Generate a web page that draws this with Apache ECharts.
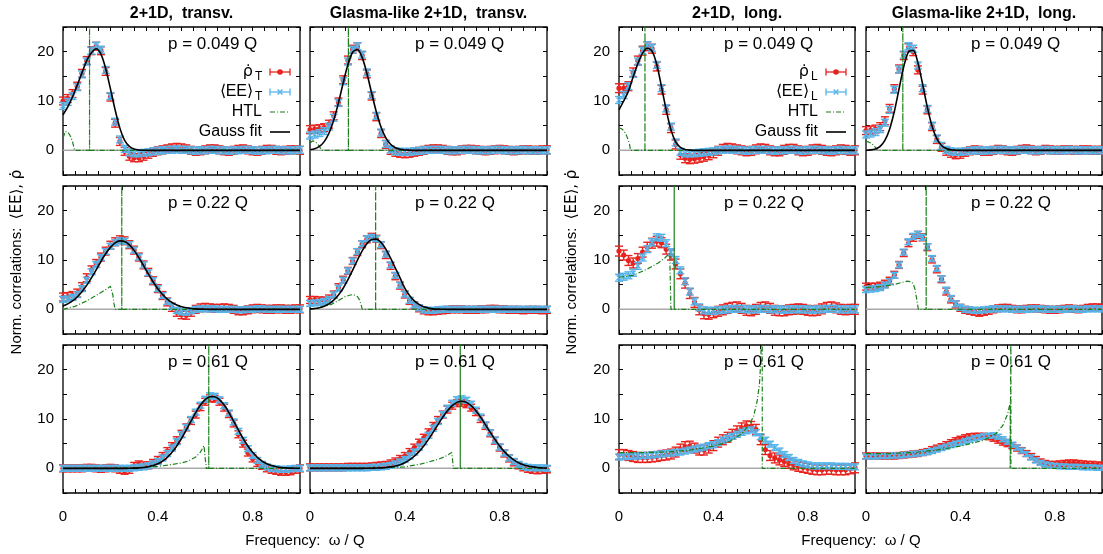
<!DOCTYPE html>
<html><head><meta charset="utf-8">
<script src="https://cdn.jsdelivr.net/npm/echarts@6/dist/echarts.min.js"></script>
<style>html,body{margin:0;padding:0;background:#fff}#c{width:1103px;height:554px}</style>
</head><body><div id="c"></div>
<script>
// ---------------- data ----------------
const omega = [0,0.02,0.04,0.06,0.08,0.1,0.12,0.14,0.16,0.18,
0.2,0.22,0.24,0.26,0.28,0.3,0.32,0.34,0.36,0.38,
0.4,0.42,0.44,0.46,0.48,0.5,0.52,0.54,0.56,0.58,
0.6,0.62,0.64,0.66,0.68,0.7,0.72,0.74,0.76,0.78,
0.8,0.82,0.84,0.86,0.88,0.9,0.92,0.94,0.96,0.98,
1.0];
const columnTitles = ['2+1D,  transv.', 'Glasma-like 2+1D,  transv.', '2+1D,  long.', 'Glasma-like 2+1D,  long.'];
const momentumLabels = ['p = 0.049 Q', 'p = 0.22 Q', 'p = 0.61 Q'];
const yTickLabels = [0, 10, 20];
const xTickLabels = [0, 0.4, 0.8];

// Row 1: p = 0.049 Q
const rhoA = [10.0,10.5,11.5,13.0,15.6,18.2,20.2,21.1,20.2,16.0,
10.8,5.5,1.8,-0.2,-1.2,-1.5,-1.5,-1.2,-0.8,-0.4,
-0.1,0.1,0.3,0.5,0.6,0.5,0.3,0.0,-0.2,-0.1,
0.1,0.3,0.3,0.1,-0.1,-0.2,0.0,0.2,0.3,0.1,
-0.1,-0.2,0.0,0.2,0.2,0.0,-0.1,0.0,0.1,0.1,
0.0];
const eeA = [9.0,9.8,11.0,12.8,15.4,18.0,20.2,21.2,20.4,16.3,
11.0,5.8,2.2,0.3,-0.4,-0.6,-0.6,-0.5,-0.4,-0.2,
-0.1,0.0,0.1,0.1,0.2,0.1,0.1,0.0,-0.1,0.0,
0.0,0.1,0.1,0.0,0.0,-0.1,0.0,0.0,0.1,0.1,
0.0,-0.1,0.0,0.0,0.1,0.1,0.0,0.0,0.0,0.0,
0.1];
const fitA = [7.2,8.8,10.8,13.2,15.7,18.2,19.8,20.6,19.5,16.6,
12.5,8.2,4.5,2.0,0.8,0.25,0.08,0.02,0,0,
0,0,0,0,0,0,0,0,0,0,
0,0,0,0,0,0,0,0,0,0,
0,0,0,0,0,0,0,0,0,0,
0];
const htlA = [[0,2.5],[0.01,3.8],[0.02,3.7],[0.03,3.0],[0.04,1.8],[0.049,0],[0.112,0],[0.112,30],[0.112,0],[1,0]];

const rhoB = [4.2,4.3,4.4,4.6,5.3,7.0,9.8,14.3,18.3,20.5,
21.0,19.2,15.5,11.0,6.8,3.4,1.2,0.0,-0.4,-0.6,
-0.7,-0.6,-0.4,-0.2,0.0,0.2,0.3,0.3,0.2,0.0,
-0.1,-0.1,0.1,0.2,0.2,0.1,0.0,-0.1,0.0,0.1,
0.2,0.1,0.0,-0.1,0.0,0.1,0.1,0.0,0.0,0.1,
0.1];
const eeB = [3.0,3.2,3.5,3.9,4.8,6.6,9.6,14.0,18.0,20.4,
21.1,19.4,15.8,11.2,7.0,3.6,1.3,0.2,-0.2,-0.3,
-0.3,-0.3,-0.2,-0.1,0.0,0.1,0.1,0.1,0.1,0.0,
0.0,0.0,0.1,0.1,0.1,0.0,0.0,0.0,0.0,0.1,
0.1,0.0,0.0,0.0,0.0,0.1,0.0,0.0,0.0,0.0,
0.0];
const fitB = [0.12,0.33,0.81,1.77,3.47,6.1,9.63,13.65,17.39,19.89,
20.43,18.85,15.62,11.62,7.76,4.66,2.51,1.22,0.53,0.21,
0.08,0.03,0,0,0,0,0,0,0,0,
0,0,0,0,0,0,0,0,0,0,
0,0,0,0,0,0,0,0,0,0,
0];
const htlB = [[0,1.5],[0.01,1.9],[0.02,1.8],[0.03,1.4],[0.04,0.8],[0.049,0],[0.162,0],[0.162,30],[0.162,0],[1,0]];

const rhoC = [12.6,12.6,13.0,15.8,18.2,20.2,21.1,20.6,17.0,12.3,
8.2,4.5,1.2,-0.9,-1.6,-1.8,-1.7,-1.5,-1.3,-1.0,
-0.6,-0.1,0.3,0.5,0.4,0.2,0.0,-0.2,-0.1,0.2,
0.4,0.3,0.0,-0.2,-0.2,0.1,0.3,0.3,0.0,-0.2,
-0.1,0.2,0.3,0.1,-0.1,-0.2,0.0,0.2,0.1,-0.1,
0.0];
const eeC = [10.2,11.2,13.0,15.5,18.0,20.2,21.3,20.8,17.3,12.6,
8.5,4.8,1.6,-0.3,-0.6,-0.6,-0.6,-0.5,-0.4,-0.3,
-0.2,0.0,0.1,0.2,0.1,0.1,0.0,-0.1,0.0,0.1,
0.1,0.1,0.0,-0.1,0.0,0.0,0.1,0.1,0.0,-0.1,
0.0,0.1,0.1,0.0,0.0,-0.1,0.0,0.1,0.0,0.0,
0.0];
const fitC = [8.2,10.0,12.0,14.9,17.6,19.7,20.7,20.1,17.4,12.9,
8.2,4.2,1.7,0.6,0.15,0.04,0,0,0,0,
0,0,0,0,0,0,0,0,0,0,
0,0,0,0,0,0,0,0,0,0,
0,0,0,0,0,0,0,0,0,0,
0];
const htlC = [[0,4.5],[0.01,4.4],[0.02,4.0],[0.03,3.2],[0.04,2.0],[0.045,1.1],[0.049,0],[0.11,0],[0.11,30],[0.11,0],[1,0]];

const rhoD = [4.0,4.1,4.3,4.8,6.0,8.5,12.5,16.5,19.2,20.8,
20.0,16.3,12.2,8.2,4.8,2.2,0.6,-0.2,-0.6,-0.9,
-0.8,-0.4,-0.1,0.1,0.0,-0.2,-0.2,0.0,0.2,0.1,
-0.1,-0.2,0.0,0.2,0.3,0.1,-0.1,0.0,0.2,0.1,
0.0,0.0,0.1,0.1,0.0,0.0,0.1,0.1,0.0,0.0,
0.0];
const eeD = [3.2,3.4,3.7,4.3,5.6,8.2,12.3,16.4,19.4,21.1,
20.6,17.2,12.6,8.4,5.0,2.4,0.9,0.1,-0.2,-0.3,
-0.3,-0.2,-0.1,0.0,0.0,-0.1,0.0,0.0,0.1,0.1,
0.0,0.0,0.0,0.1,0.1,0.0,0.0,0.0,0.1,0.0,
0.0,0.0,0.0,0.1,0.0,0.0,0.0,0.0,0.0,0.0,
0.0];
const fitD = [0.02,0.09,0.29,0.82,2.02,4.29,7.86,12.43,16.96,19.96,
20.26,17.73,13.39,8.72,4.89,2.37,0.99,0.36,0.11,0.03,
0,0,0,0,0,0,0,0,0,0,
0,0,0,0,0,0,0,0,0,0,
0,0,0,0,0,0,0,0,0,0,
0];
const htlD = [[0,1.8],[0.01,1.7],[0.02,1.5],[0.03,1.1],[0.04,0.6],[0.049,0],[0.156,0],[0.156,30],[0.156,0],[1,0]];

// Row 2: p = 0.22 Q
const rhoE = [2.5,2.6,2.8,3.3,4.6,6.4,8.0,9.3,10.6,11.8,
13.0,13.7,14.1,13.9,13.1,12.0,10.6,9.0,7.5,5.8,
4.2,2.8,1.5,0.4,-0.6,-1.1,-1.2,-0.6,0.0,0.3,
0.4,0.3,0.2,0.2,0.3,0.2,0.0,-0.3,-0.3,-0.1,
0.1,0.2,0.1,0.0,0.0,0.1,0.1,0.0,0.0,0.1,
0.1];
const eeE = [2.0,2.1,2.4,3.0,4.2,5.9,7.6,9.1,10.5,11.7,
12.8,13.5,13.9,13.8,13.1,12.0,10.6,9.0,7.4,5.8,
4.2,2.8,1.6,0.6,-0.2,-0.5,-0.6,-0.3,0.0,0.1,
0.1,0.1,0.1,0.0,0.0,0.0,0.0,-0.1,-0.1,0.0,
0.0,0.1,0.1,0.0,0.0,0.0,0.0,0.0,0.0,0.0,
0.0];
const fitE = [0.69,1.11,1.7,2.51,3.56,4.86,6.36,8.01,9.69,11.26,
12.56,13.47,13.88,13.74,13.07,11.95,10.49,8.85,7.17,5.59,
4.18,3.01,2.08,1.38,0.88,0.54,0.32,0.18,0.1,0.05,
0.02,0,0,0,0,0,0,0,0,0,
0,0,0,0,0,0,0,0,0,0,
0];
const htlE = [[0,0],[0.05,0.6],[0.1,1.7],[0.14,2.8],[0.17,3.7],[0.19,4.3],[0.2,4.7],[0.205,4.5],[0.21,3.0],[0.215,1.2],[0.22,0],[0.248,0],[0.248,30],[0.248,0],[1,0]];

const rhoF = [1.9,1.9,1.8,1.8,2.2,3.0,4.5,6.0,7.8,9.8,
11.6,13.2,14.2,14.7,14.3,13.0,11.0,8.8,6.7,4.8,
3.0,1.7,0.8,0.2,-0.2,-0.4,-0.4,-0.3,-0.2,-0.1,
0.0,0.0,0.0,-0.1,-0.1,-0.1,0.0,0.0,0.1,0.1,
0.0,0.0,-0.1,-0.1,-0.1,-0.2,-0.1,-0.1,-0.1,-0.2,
-0.1];
const eeF = [1.2,1.3,1.4,1.6,2.0,2.9,4.3,5.9,7.8,9.8,
11.7,13.3,14.3,14.6,14.3,13.1,11.2,9.0,6.9,4.9,
3.1,1.8,0.9,0.3,-0.1,-0.2,-0.2,-0.1,0.0,0.0,
0.0,0.0,0.0,0.0,0.0,0.0,0.0,0.0,0.0,0.0,
0.0,0.0,0.0,0.0,0.0,0.0,0.0,0.0,0.0,0.0,
0.0];
const fitF = [0.09,0.18,0.34,0.64,1.11,1.85,2.89,4.28,6.0,7.96,
9.99,11.86,13.32,14.16,14.24,13.54,12.19,10.38,8.37,6.38,
4.3,2.8,1.7,1.0,0.5,0.25,0.1,0.04,0.01,0,
0,0,0,0,0,0,0,0,0,0,
0,0,0,0,0,0,0,0,0,0,
0];
const htlF = [[0,0],[0.05,0.5],[0.09,1.0],[0.12,1.8],[0.15,2.6],[0.17,2.9],[0.183,3.0],[0.2,2.6],[0.21,1.8],[0.221,0],[0.277,0],[0.277,30],[0.277,0],[1,0]];

const rhoG = [11.8,11.0,9.9,9.4,10.3,11.6,12.6,13.4,13.8,13.5,
12.2,11.0,9.2,7.2,5.3,3.2,1.4,-0.1,-0.9,-1.0,
-0.7,-0.4,-0.1,0.2,0.4,0.5,0.2,-0.2,-0.3,0.0,
0.4,0.5,0.2,-0.2,-0.3,-0.3,-0.1,0.0,0.1,0.0,
-0.2,-0.3,-0.2,0.1,0.4,0.5,0.3,0.0,-0.1,0.0,
0.0];
const eeG = [6.4,6.6,6.9,7.4,8.8,10.5,12.2,13.6,14.6,14.5,
13.4,11.6,10.0,7.9,5.7,3.6,1.6,0.4,-0.2,-0.3,
-0.3,-0.2,-0.1,0.0,0.1,0.1,0.1,0.0,0.0,0.0,
0.1,0.1,0.0,0.0,0.0,-0.1,0.0,0.0,0.0,0.0,
0.0,-0.1,0.0,0.0,0.1,0.1,0.1,0.0,0.0,0.0,
0.0];
const htlG = [[0,6.5],[0.06,6.9],[0.117,8.1],[0.166,9.4],[0.194,10.4],[0.215,11.4],[0.22,11.6],[0.22,0],[0.234,0],[0.234,30],[0.234,0],[1,0]];

const rhoH = [4.6,4.6,4.6,4.8,5.2,5.8,7.0,9.0,11.4,13.4,
14.5,15.1,14.6,12.6,10.1,8.1,6.1,3.6,2.0,1.0,
0.3,-0.1,-0.3,-0.5,-0.7,-0.5,-0.3,0.0,0.2,0.3,
0.3,0.1,0.0,0.0,0.1,0.2,0.2,0.1,0.0,-0.1,
-0.1,0.0,0.1,0.2,0.1,0.0,0.1,0.3,0.4,0.4,
0.3];
const eeH = [4.0,4.1,4.2,4.4,4.9,5.6,6.9,9.0,11.6,13.7,
14.8,15.2,14.6,12.7,10.3,8.3,6.2,3.9,2.2,1.1,
0.4,0.0,-0.1,-0.2,-0.2,-0.1,0.0,0.1,0.1,0.1,
0.1,0.0,0.0,0.0,0.0,0.1,0.1,0.1,0.0,0.0,
0.0,0.0,0.0,0.1,0.1,0.0,0.0,0.1,0.1,0.1,
0.1];
const htlH = [[0,4.4],[0.06,4.6],[0.116,5.0],[0.172,5.7],[0.19,5.6],[0.2,5.2],[0.208,4.0],[0.215,2.0],[0.222,0],[0.255,0],[0.255,30],[0.255,0],[1,0]];

// Row 3: p = 0.61 Q
const rhoI = [0.0,0.0,0.0,0.0,0.0,0.1,0.1,0.0,-0.1,0.0,
0.1,0.0,-0.3,-0.5,-0.3,0.5,0.8,0.6,0.6,1.1,
1.7,2.5,3.5,4.5,5.7,7.0,8.3,9.6,10.9,12.4,
13.5,14.2,14.1,13.5,12.3,11.0,9.1,6.9,5.0,3.2,
2.0,1.1,0.5,0.0,-0.3,-0.5,-0.7,-0.7,-0.6,-0.3,
0.0];
const eeI = [0,0,0,0,0,0,0,0,0,0,
0,0,0,0,0,0.1,0.2,0.3,0.5,0.9,
1.4,2.1,3.0,4.1,5.4,6.8,8.3,9.9,11.4,12.8,
14.0,14.7,14.6,13.9,12.7,11.2,9.4,7.5,5.7,4.0,
2.6,1.6,0.8,0.3,0.0,-0.1,-0.2,-0.2,-0.1,0.0,
0.0];
const fitI = [0,0,0,0,0,0,0,0,0,0,
0,0,0,0,0.02,0.05,0.1,0.18,0.33,0.56,
0.93,1.47,2.23,3.24,4.52,6.05,7.78,9.57,11.31,12.82,
13.93,14.52,14.52,13.93,12.82,11.31,9.57,7.78,6.05,4.52,
3.24,2.23,1.47,0.93,0.56,0.33,0.18,0.1,0.05,0.02,
0.01];
const htlI = [[0,0],[0.3,0.1],[0.4,0.4],[0.45,0.7],[0.5,1.1],[0.53,1.5],[0.56,2.3],[0.58,3.3],[0.595,4.6],[0.6,2.0],[0.605,0],[0.615,0],[0.615,30],[0.615,0],[1,0]];

const rhoJ = [0.2,0.2,0.2,0.2,0.2,0.2,0.2,0.2,0.3,0.3,
0.3,0.3,0.3,0.4,0.5,0.6,0.7,1.0,1.4,1.9,
2.5,3.3,4.2,5.2,6.2,7.3,8.6,9.8,10.9,11.9,
12.7,13.2,13.3,13.0,12.3,11.4,10.0,8.6,7.1,5.6,
4.2,3.0,2.0,1.2,0.6,0.2,-0.1,-0.3,-0.4,-0.3,
-0.2];
const eeJ = [0.1,0.1,0.1,0.1,0.1,0.1,0.1,0.1,0.1,0.1,
0.1,0.1,0.1,0.2,0.2,0.3,0.4,0.6,0.9,1.3,
1.8,2.5,3.3,4.3,5.4,6.7,8.1,9.5,10.9,12.2,
13.2,13.9,14.1,13.8,13.0,11.8,10.4,8.8,7.2,5.7,
4.3,3.1,2.1,1.4,0.8,0.4,0.2,0.1,0.1,0.1,
0.0];
const fitJ = [0,0,0,0,0,0,0,0,0,0,
0,0,0.02,0.03,0.06,0.1,0.17,0.29,0.47,0.75,
1.15,1.71,2.45,3.39,4.54,5.87,7.34,8.86,10.34,11.65,
12.7,13.37,13.6,13.37,12.7,11.65,10.34,8.86,7.34,5.87,
4.54,3.39,2.45,1.71,1.15,0.75,0.47,0.29,0.17,0.1,
0.05];
const htlJ = [[0,0],[0.3,0.1],[0.4,0.3],[0.47,0.9],[0.54,1.8],[0.57,2.4],[0.598,3.2],[0.602,1.5],[0.605,0],[0.634,0],[0.634,30],[0.634,0],[1,0]];

const rhoK = [2.8,2.8,2.6,2.4,2.2,2.2,2.2,2.3,2.4,2.6,
2.7,2.9,3.3,3.9,4.4,4.5,4.1,3.7,3.7,4.1,
4.6,5.3,5.8,6.3,6.9,7.6,8.2,8.6,8.5,7.9,
5.8,3.8,2.6,2.1,1.7,1.4,1.0,0.7,0.4,0.2,
0.0,-0.2,-0.3,-0.3,-0.2,-0.2,-0.3,-0.3,-0.3,-0.1,
0.1];
const eeK = [2.3,2.4,2.4,2.5,2.5,2.6,2.6,2.7,2.8,2.9,
3.0,3.1,3.2,3.3,3.5,3.7,3.9,4.1,4.3,4.6,
4.8,5.2,5.7,6.1,6.5,6.9,7.3,7.6,7.8,7.2,
6.4,5.7,4.9,4.2,3.5,2.8,2.2,1.6,1.2,0.9,
0.7,0.5,0.5,0.5,0.5,0.5,0.4,0.4,0.4,0.3,
0.3];
const htlK = [[0,3.2],[0.1,3.2],[0.2,3.3],[0.3,3.7],[0.4,4.5],[0.47,5.5],[0.52,7.0],[0.55,8.7],[0.57,10.5],[0.585,13.5],[0.595,17],[0.6,21],[0.604,27],[0.607,30],[0.607,0],[1,0]];

const rhoL = [2.5,2.5,2.5,2.5,2.5,2.5,2.5,2.6,2.7,2.8,
2.9,3.0,3.2,3.4,3.8,4.1,4.4,4.8,5.2,5.6,
5.9,6.2,6.4,6.5,6.5,6.5,6.4,6.1,5.7,5.3,
5.0,4.6,4.1,3.6,3.0,2.4,1.8,1.3,1.0,0.8,
0.8,0.9,1.0,1.1,1.1,1.0,0.9,0.8,0.8,0.7,
0.6];
const eeL = [2.4,2.4,2.4,2.5,2.5,2.5,2.6,2.6,2.7,2.8,
2.9,3.0,3.1,3.3,3.5,3.8,4.1,4.4,4.7,5.0,
5.2,5.5,5.8,6.1,6.3,6.5,6.6,6.7,6.4,5.9,
5.4,4.8,4.2,3.6,2.9,2.2,1.6,1.1,0.8,0.6,
0.5,0.4,0.4,0.3,0.3,0.3,0.2,0.2,0.2,0.1,
0.1];
const htlL = [[0,3.0],[0.1,3.0],[0.2,3.2],[0.3,3.7],[0.4,4.5],[0.5,5.7],[0.55,7.0],[0.58,8.7],[0.6,11],[0.611,13.3],[0.611,0],[0.614,0],[0.614,30],[0.614,0],[1,0]];

// error-bar half sizes per panel (same order A..L)
const errRho = [0.8,0.8,0.9,0.8, 0.8,0.7,1.0,0.7, 0.7,0.7,1.0,0.6];
const errEE  = [0.7,0.7,0.7,0.7, 0.6,0.6,0.7,0.6, 0.6,0.6,0.6,0.5];

// ---------------- assembly ----------------
const panels = [
  {rho:rhoA, ee:eeA, fit:fitA, htl:htlA}, {rho:rhoB, ee:eeB, fit:fitB, htl:htlB},
  {rho:rhoC, ee:eeC, fit:fitC, htl:htlC}, {rho:rhoD, ee:eeD, fit:fitD, htl:htlD},
  {rho:rhoE, ee:eeE, fit:fitE, htl:htlE}, {rho:rhoF, ee:eeF, fit:fitF, htl:htlF},
  {rho:rhoG, ee:eeG, fit:null, htl:htlG}, {rho:rhoH, ee:eeH, fit:null, htl:htlH},
  {rho:rhoI, ee:eeI, fit:fitI, htl:htlI}, {rho:rhoJ, ee:eeJ, fit:fitJ, htl:htlJ},
  {rho:rhoK, ee:eeK, fit:null, htl:htlK}, {rho:rhoL, ee:eeL, fit:null, htl:htlL}
];

const FONT = '"Liberation Sans", Arial, Helvetica, sans-serif';
const GREEKFONT = '"DejaVu Sans", sans-serif';
const RED = '#e8231f', BLUE = '#56b4e9', GREEN = '#1a7f1a';
const colLeft = [63, 310, 619, 866], colWidth = [237, 237, 236, 236];
const rowTop = [27, 186, 345], rowHeight = 148;

function errorBarSeries(k, values, err, color, marker, z) {
  return {
    type: 'custom', xAxisIndex: 2*k, yAxisIndex: 2*k, z: z, silent: true,
    data: omega.map((w, i) => [w, values[i]]),
    encode: {x: 0, y: 1},
    renderItem: function (params, api) {
      const pt = api.coord([api.value(0), api.value(1)]);
      const h = api.size([0, err])[1];
      const cx = pt[0], cy = pt[1], hw = 4;
      const st = {stroke: color, lineWidth: 1.4};
      const ch = [
        {type: 'line', shape: {x1: cx, y1: cy - h, x2: cx, y2: cy + h}, style: st},
        {type: 'line', shape: {x1: cx - hw, y1: cy - h, x2: cx + hw, y2: cy - h}, style: st},
        {type: 'line', shape: {x1: cx - hw, y1: cy + h, x2: cx + hw, y2: cy + h}, style: st}
      ];
      if (marker === 'circle') {
        ch.push({type: 'circle', shape: {cx: cx, cy: cy, r: 2.6}, style: {fill: color}});
      } else {
        const d = 2.4;
        ch.push({type: 'line', shape: {x1: cx - d, y1: cy - d, x2: cx + d, y2: cy + d}, style: {stroke: color, lineWidth: 1.4}});
        ch.push({type: 'line', shape: {x1: cx - d, y1: cy + d, x2: cx + d, y2: cy - d}, style: {stroke: color, lineWidth: 1.4}});
      }
      return {type: 'group', children: ch};
    }
  };
}

const grids = [], xAxes = [], yAxes = [], series = [], graphics = [];
panels.forEach((p, k) => {
  const r = Math.floor(k / 4), c = k % 4;
  grids.push({left: colLeft[c], top: rowTop[r], width: colWidth[c], height: rowHeight,
    show: true, borderColor: '#000', borderWidth: 1.3, backgroundColor: 'rgba(0,0,0,0)'});
  const tick = {show: true, inside: true, length: 4, lineStyle: {color: '#000', width: 1}};
  ['bottom', 'top'].forEach(pos => xAxes.push({
    gridIndex: k, type: 'value', position: pos, min: 0, max: 1, interval: 0.05,
    axisLine: {show: false, onZero: false}, splitLine: {show: false}, axisTick: tick,
    axisLabel: {show: pos === 'bottom' && r === 2, customValues: xTickLabels, margin: 16,
      fontSize: 15, color: '#000', fontFamily: FONT}
  }));
  ['left', 'right'].forEach(pos => yAxes.push({
    gridIndex: k, type: 'value', position: pos, min: -5, max: 25, interval: 5,
    axisLine: {show: false, onZero: false}, splitLine: {show: false}, axisTick: tick,
    axisLabel: {show: pos === 'left' && (c === 0 || c === 2), customValues: yTickLabels, margin: 9,
      fontSize: 15, color: '#000', fontFamily: FONT}
  }));
  // zero reference line
  series.push({type: 'line', xAxisIndex: 2*k, yAxisIndex: 2*k, z: 1, silent: true, symbol: 'none',
    data: [[omega[0], 0], [omega[omega.length - 1], 0]], lineStyle: {color: '#a9a9a9', width: 1.5}});
  series.push(errorBarSeries(k, p.rho, errRho[k], RED, 'circle', 2));
  series.push(errorBarSeries(k, p.ee, errEE[k], BLUE, 'cross', 3));
  series.push({type: 'line', xAxisIndex: 2*k, yAxisIndex: 2*k, z: 4, silent: true, symbol: 'none',
    data: p.htl, lineStyle: {color: GREEN, width: 1.2, type: [5, 2, 1, 2]}});
  if (p.fit) {
    series.push({type: 'line', xAxisIndex: 2*k, yAxisIndex: 2*k, z: 5, silent: true, symbol: 'none',
      smooth: 0.3, data: omega.map((w, i) => [w, p.fit[i]]), lineStyle: {color: '#000', width: 1.6}});
  }
  graphics.push({type: 'text', x: colLeft[c] + 105, y: rowTop[r] + 17, z: 10,
    style: {text: momentumLabels[r], fontSize: 17, fontFamily: FONT, fill: '#000', verticalAlign: 'middle'}});
});

// column titles
columnTitles.forEach((t, c) => graphics.push({type: 'text', x: colLeft[c] + colWidth[c] / 2, y: 14,
  style: {text: t, fontSize: 16, fontWeight: 'bold', fontFamily: FONT, fill: '#000', align: 'center', verticalAlign: 'middle'}}));

// axis names
[17, 572].forEach(x => graphics.push({type: 'text', x: x, y: 262, rotation: Math.PI / 2,
  style: {text: '{a|Norm. correlations:  }{g|\u27E8EE\u27E9, \u03C1\u0307}', align: 'center', verticalAlign: 'middle', fill: '#000',
    rich: {a: {fontSize: 15, fontFamily: FONT, fill: '#000'}, g: {fontSize: 15, fontFamily: GREEKFONT, fill: '#000'}}}}));
[305, 861].forEach(x => graphics.push({type: 'text', x: x, y: 541,
  style: {text: 'Frequency:  \u03C9 / Q', fontSize: 15, fontFamily: FONT, fill: '#000', align: 'center', verticalAlign: 'middle'}}));

// legends (panels A and C)
[[0, 'T'], [2, 'L']].forEach(([c, sub]) => {
  const xr = colLeft[c] + 190, sx0 = colLeft[c] + 207, sx1 = colLeft[c] + 227, sxm = (sx0 + sx1) / 2;
  const ys = [72, 92, 112, 132];
  const txt = (s, x, y, size, align, fam) => ({type: 'text', x: x, y: y, z: 10,
    style: {text: s, fontSize: size, fontFamily: fam || FONT, fill: '#000', align: align, verticalAlign: 'middle'}});
  graphics.push(txt('\u03C1\u0307', xr, ys[0], 16, 'right', GREEKFONT));
  graphics.push(txt(sub, xr + 2, ys[0] + 5, 12, 'left'));
  graphics.push(txt('\u27E8EE\u27E9', xr, ys[1], 16, 'right'));
  graphics.push(txt(sub, xr + 2, ys[1] + 5, 12, 'left'));
  graphics.push(txt('HTL', colLeft[c] + 199, ys[2], 16, 'right'));
  graphics.push(txt('Gauss fit', colLeft[c] + 199, ys[3], 16, 'right'));
  const ln = (x1, y1, x2, y2, color, w, dash) => ({type: 'line', z: 10,
    shape: {x1: x1, y1: y1, x2: x2, y2: y2}, style: {stroke: color, lineWidth: w, lineDash: dash || null}});
  [[ys[0], RED], [ys[1], BLUE]].forEach(([y, col]) => {
    graphics.push(ln(sx0, y, sx1, y, col, 1.3));
    graphics.push(ln(sx0, y - 3.5, sx0, y + 3.5, col, 1.3));
    graphics.push(ln(sx1, y - 3.5, sx1, y + 3.5, col, 1.3));
  });
  graphics.push({type: 'circle', z: 11, shape: {cx: sxm, cy: ys[0], r: 2.8}, style: {fill: RED}});
  graphics.push(ln(sxm - 2.4, ys[1] - 2.4, sxm + 2.4, ys[1] + 2.4, BLUE, 1.4));
  graphics.push(ln(sxm - 2.4, ys[1] + 2.4, sxm + 2.4, ys[1] - 2.4, BLUE, 1.4));
  graphics.push(ln(sx0, ys[2], sx1, ys[2], GREEN, 1.2, [5, 2, 1, 2]));
  graphics.push(ln(sx0, ys[3], sx1, ys[3], '#000', 1.6));
});

const chart = echarts.init(document.getElementById('c'), null, {renderer: 'canvas', width: 1103, height: 554});
chart.setOption({
  animation: false,
  backgroundColor: '#fff',
  grid: grids, xAxis: xAxes, yAxis: yAxes, series: series, graphic: graphics
});
</script></body></html>
